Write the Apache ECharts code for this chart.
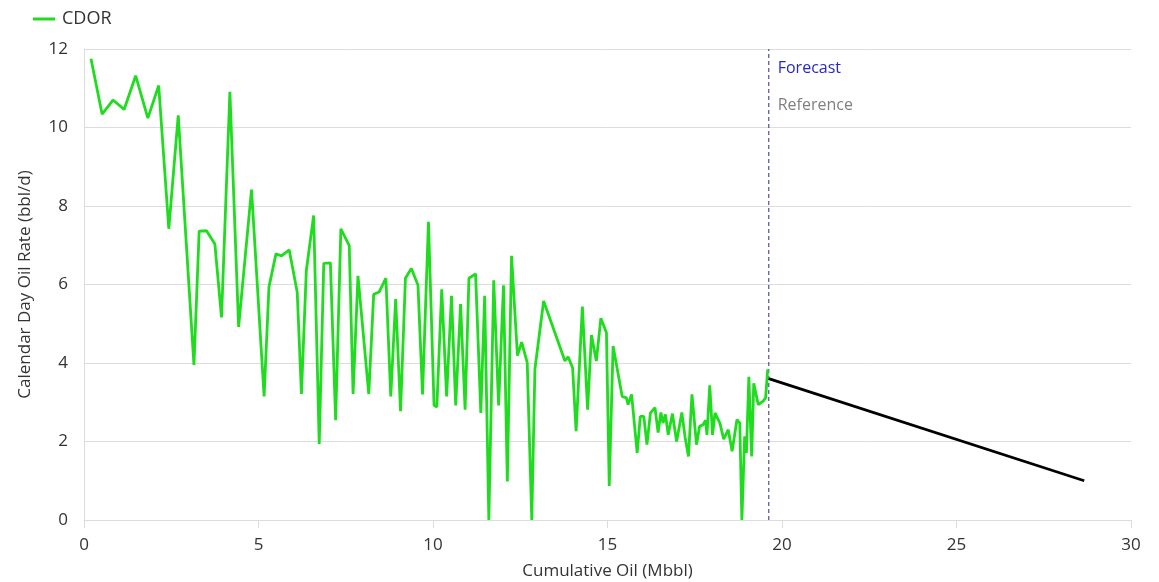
<!DOCTYPE html>
<html>
<head>
<meta charset="utf-8">
<script src="https://cdn.jsdelivr.net/npm/echarts@6/dist/echarts.min.js"></script>
<style>html,body{margin:0;padding:0;background:#fff;}#c{width:1159px;height:582px;}</style>
</head>
<body>
<div id="c"></div>
<script>
const cumOil = [0.2,0.52,0.83,1.15,1.48,1.83,2.14,2.43,2.70,3.15,
3.30,3.51,3.75,3.94,4.18,4.43,4.80,5.16,5.30,5.50,
5.66,5.88,6.11,6.23,6.37,6.58,6.74,6.87,7.06,7.21,
7.36,7.60,7.71,7.85,8.16,8.30,8.46,8.65,8.79,8.93,
9.07,9.21,9.38,9.57,9.70,9.87,10.03,10.11,10.25,10.39,
10.53,10.65,10.79,10.92,11.03,11.22,11.37,11.48,11.60,11.74,
11.88,12.02,12.13,12.25,12.42,12.54,12.70,12.83,12.92,13.17,
13.78,13.87,14.00,14.10,14.28,14.43,14.54,14.68,14.81,14.97,
15.05,15.16,15.42,15.54,15.59,15.69,15.85,15.94,16.04,16.13,
16.23,16.36,16.45,16.53,16.59,16.66,16.74,16.86,16.98,17.13,
17.22,17.32,17.42,17.55,17.64,17.74,17.81,17.85,17.93,18.01,
18.08,18.22,18.33,18.46,18.57,18.71,18.79,18.85,18.93,18.98,
19.05,19.13,19.19,19.32,19.46,19.53,19.59];
const cdor = [11.75,10.34,10.70,10.46,11.32,10.24,11.07,7.42,10.31,3.95,
7.36,7.37,7.03,5.16,10.91,4.92,8.42,3.15,5.94,6.78,
6.73,6.88,5.80,3.21,6.35,7.76,1.94,6.54,6.55,2.54,
7.42,6.99,3.21,6.22,3.21,5.75,5.81,6.16,3.15,5.63,
2.77,6.16,6.41,5.98,3.20,7.60,2.92,2.88,5.88,3.15,
5.71,2.92,5.50,2.81,6.16,6.27,2.73,5.71,0,6.11,
2.92,5.98,0.98,6.73,4.19,4.53,4.01,0,3.84,5.58,
4.05,4.16,3.88,2.26,5.44,2.81,4.71,4.05,5.14,4.77,
0.87,4.43,3.15,3.11,2.94,3.20,1.71,2.64,2.64,1.92,
2.73,2.86,2.23,2.74,2.47,2.69,2.17,2.71,2.00,2.74,
2.13,1.62,3.20,1.92,2.39,2.43,2.54,2.17,3.43,2.17,
2.73,2.47,2.06,2.30,1.75,2.56,2.47,0,2.13,1.71,
3.65,1.62,3.48,2.94,3.03,3.11,3.84];
const forecastX = [19.62, 28.66];
const forecastY = [3.60, 1.00];
const forecastStart = 19.62;
const xTicks = [0, 30, 5];
const yTicks = [0, 12, 2];

const FONT = '"Open Sans", "Noto Sans", sans-serif';
const chart = echarts.init(document.getElementById('c'), null, {renderer: 'canvas'});
const option = {
  animation: false,
  backgroundColor: '#fff',
  textStyle: {fontFamily: FONT},
  legend: {
    left: 28, top: 5,
    itemWidth: 22, itemHeight: 3, itemGap: 10,
    data: [{name: 'CDOR', icon: 'rect'}],
    textStyle: {fontSize: 18, color: '#333', fontFamily: FONT, padding: [0,0,0,2]}
  },
  grid: {left: 84, right: 28, top: 49, bottom: 62, containLabel: false, outerBoundsMode: 'none'},
  xAxis: {
    type: 'value', min: xTicks[0], max: xTicks[1], interval: xTicks[2],
    name: 'Cumulative Oil (Mbbl)', nameLocation: 'middle', nameGap: 43,
    nameTextStyle: {fontSize: 17, color: '#333', fontFamily: FONT},
    axisLine: {show: true, lineStyle: {color: '#dcdcdc'}},
    axisTick: {show: true, length: 8, lineStyle: {color: '#dcdcdc'}},
    axisLabel: {fontSize: 17, color: '#333', margin: 17, fontFamily: FONT},
    splitLine: {show: false}
  },
  yAxis: {
    type: 'value', min: yTicks[0], max: yTicks[1], interval: yTicks[2],
    name: 'Calendar Day Oil Rate (bbl/d)', nameLocation: 'middle', nameGap: 50,
    nameTextStyle: {fontSize: 17, color: '#333', fontFamily: FONT},
    axisLine: {show: true, lineStyle: {color: '#dcdcdc'}},
    axisTick: {show: false},
    axisLabel: {fontSize: 17, color: '#333', margin: 16, fontFamily: FONT},
    splitLine: {show: true, lineStyle: {color: '#dcdcdc', width: 1}}
  },
  series: [
    {
      name: 'CDOR', type: 'line', showSymbol: false, symbol: 'none',
      data: cumOil.map((x, i) => [x, cdor[i]]),
      lineStyle: {color: '#1fdc1f', width: 2.8},
      itemStyle: {color: '#1fdc1f'},
      z: 3
    },
    {
      name: 'Forecast', type: 'line', showSymbol: false, symbol: 'none',
      data: forecastX.map((x, i) => [x, forecastY[i]]),
      lineStyle: {color: '#000', width: 2.8},
      z: 4
    },
    {
      name: 'ForecastStart', type: 'line', showSymbol: false, symbol: 'none',
      data: [[forecastStart, yTicks[0]], [forecastStart, yTicks[1]]],
      lineStyle: {color: '#5b5ba8', width: 1.3, type: [4, 3]},
      z: 2
    }
  ]
};
chart.setOption(option);
const p = chart.convertToPixel({gridIndex: 0}, [forecastStart, yTicks[1]]);
chart.setOption({
  graphic: [
    {type: 'text', left: p[0] + 9, top: p[1] + 11,
      style: {text: 'Forecast', fontSize: 16, fill: '#2828c8', fontFamily: FONT}},
    {type: 'text', left: p[0] + 9, top: p[1] + 48,
      style: {text: 'Reference', fontSize: 16, fill: '#808080', fontFamily: FONT}}
  ]
});
</script>
</body>
</html>
